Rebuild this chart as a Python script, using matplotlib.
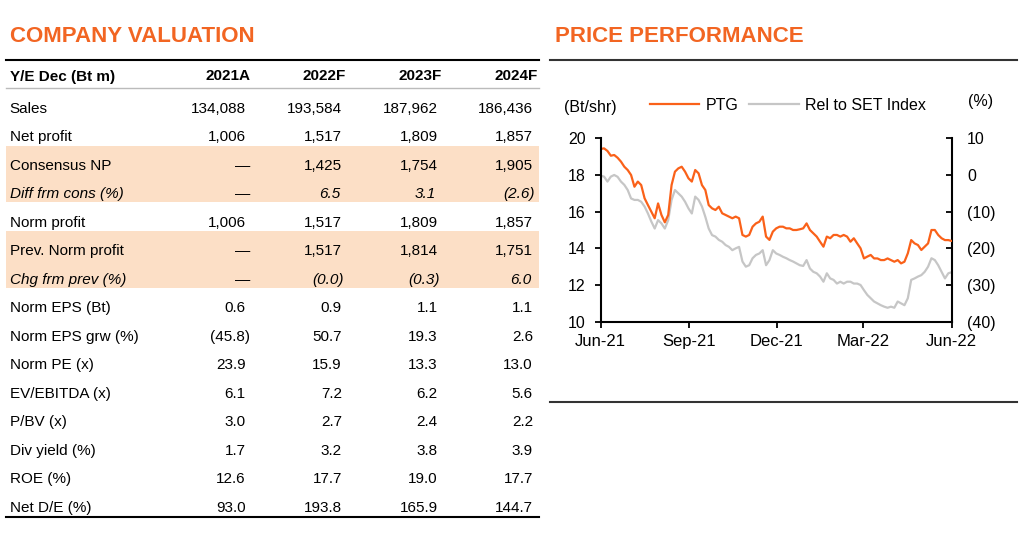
import matplotlib
matplotlib.use('Agg')
import matplotlib.pyplot as plt
import matplotlib.dates as mdates
from matplotlib.lines import Line2D
from matplotlib.patches import Rectangle
import numpy as np
import pandas as pd

plt.rcParams['font.family'] = ['Liberation Sans', 'DejaVu Sans']

# ---- table data ----
years = ['2021A', '2022F', '2023F', '2024F']
row_labels = ['Sales', 'Net profit', 'Consensus NP', 'Diff frm cons (%)', 'Norm profit',
              'Prev. Norm profit', 'Chg frm prev (%)', 'Norm EPS (Bt)', 'Norm EPS grw (%)',
              'Norm PE (x)', 'EV/EBITDA (x)', 'P/BV (x)', 'Div yield (%)', 'ROE (%)', 'Net D/E (%)']
sales = [134088, 193584, 187962, 186436]
net_profit = [1006, 1517, 1809, 1857]
consensus_np = [None, 1425, 1754, 1905]
diff_cons = [None, 6.5, 3.1, -2.6]
norm_profit = [1006, 1517, 1809, 1857]
prev_norm_profit = [None, 1517, 1814, 1751]
chg_prev = [None, -0.0, -0.3, 6.0]
norm_eps = [0.6, 0.9, 1.1, 1.1]
eps_growth = [-45.8, 50.7, 19.3, 2.6]
norm_pe = [23.9, 15.9, 13.3, 13.0]
ev_ebitda = [6.1, 7.2, 6.2, 5.6]
pbv = [3.0, 2.7, 2.4, 2.2]
div_yield = [1.7, 3.2, 3.8, 3.9]
roe = [12.6, 17.7, 19.0, 17.7]
net_de = [93.0, 193.8, 165.9, 144.7]

table_rows = [sales, net_profit, consensus_np, diff_cons, norm_profit, prev_norm_profit,
              chg_prev, norm_eps, eps_growth, norm_pe, ev_ebitda, pbv, div_yield, roe, net_de]
int_rows = {0, 1, 2, 4, 5}
italic_rows = {3, 6}
shaded = [(2, 3), (5, 6)]

# ---- price performance data (about twice a week, Jun-21 to Jun-22) ----
ptg_price = [19.42, 19.45, 19.31, 19.05, 19.09, 18.94, 18.73, 18.45, 18.27, 18.0, 17.36, 17.64,
             17.45, 16.73, 16.36, 16.0, 15.64, 16.45, 15.82, 15.42, 15.82, 17.45, 18.18, 18.36,
             18.45, 18.18, 17.82,
             17.64, 18.27, 18.09, 17.45, 17.18, 16.36, 16.18, 16.09, 16.27, 15.91, 15.82, 15.73,
             15.64, 15.73, 15.64, 14.73, 14.64, 14.73, 15.18, 15.36, 15.45, 15.73, 14.64, 14.46,
             14.91, 15.09,
             15.18, 15.18, 15.09, 15.09, 15.0, 15.0, 15.04, 15.09, 15.36, 15.0, 14.82, 14.64,
             14.36, 14.09, 14.64, 14.55, 14.73, 14.73, 14.64, 14.73, 14.64, 14.36, 14.55, 14.27,
             14.0, 13.45,
             13.55, 13.64, 13.45, 13.45, 13.36, 13.36, 13.45, 13.36, 13.27, 13.36, 13.18, 13.27,
             13.73, 14.45, 14.27, 14.18, 13.91, 14.09, 14.27, 15.0, 15.0, 14.73, 14.55, 14.45,
             14.45, 14.4]
rel_set = [-0.2, -0.45, -1.8, -0.45, 0, -0.5, -1.8, -2.7, -4.1, -6.4, -6.8, -6.8, -7.3, -8.6,
           -10.5, -12.7, -14.6, -12.3, -13.2, -14.6, -12.3, -6.8, -4.1, -5, -5.9, -7.3, -9.1,
           -10.5, -5.9, -6.8, -8.6, -11.4, -14.6, -16.4, -16.8, -17.7, -18.2, -19.1, -19.6,
           -20.5, -20, -19.6, -23.6, -25, -24.6, -22.7, -21.8, -21.4, -20.5, -24.6, -23.2,
           -20.5, -21.4,
           -21.8, -22.3, -22.7, -23.2, -23.6, -24.1, -24.6, -24.8, -23.2, -25.5, -26.4, -26.8,
           -27.7, -29.1, -26.8, -28.2, -28.6, -29.6, -29.1, -29.6, -29.1, -29.1, -29.6, -29.6,
           -30, -31.4,
           -32.7, -33.6, -34.5, -35, -35.5, -35.9, -36.2, -35.9, -36.2, -34.5, -35, -35.5,
           -33.6, -28.6, -28.2, -27.7, -27.3, -26.4, -25, -22.7, -23.2, -24.6, -26.4, -28.2,
           -26.8, -26.5]
dates = pd.date_range('2021-06-01', '2022-06-01', periods=len(ptg_price))

ORANGE_T = '#F26522'
ORANGE = '#FA6119'
GRAY = '#C6C6C6'
SHADE = '#FCDFC6'

W, H = 1024, 539
fig = plt.figure(figsize=(W / 100, H / 100), dpi=100)


def fx(x):
    return x / W


def fy(y):
    return 1 - y / H


def hline(x0, x1, y, lw, color):
    fig.add_artist(Line2D([fx(x0), fx(x1)], [fy(y), fy(y)], lw=lw, color=color,
                          transform=fig.transFigure))


def fmt(v, is_int):
    if v is None:
        return '\u2014'
    neg = v < 0 or (v == 0 and np.signbit(v))
    s = f'{abs(v):,.0f}' if is_int else f'{abs(v):.1f}'
    return f'({s})' if neg else s


# ---- left: company valuation table ----
fig.text(fx(10), fy(42.3), 'COMPANY VALUATION', color=ORANGE_T, fontsize=16,
         fontweight='bold', va='baseline')
hline(6, 539, 60, 1.5, 'black')
hline(6, 539, 88.3, 1.0, '#BBBBBB')
hline(6, 539, 517.3, 1.5, 'black')

fs = 11
row_y = [107.3 + 28.5 * i for i in range(len(row_labels))]
for a, b in shaded:
    top = row_y[a] - 18.5
    bot = row_y[b] + 9.5
    fig.add_artist(Rectangle((fx(6), fy(bot)), fx(539) - fx(6), fy(top) - fy(bot),
                             transform=fig.transFigure, facecolor=SHADE, edgecolor='none',
                             zorder=0))

head_x = [250.9, 346.0, 442.2, 538.0]
val_x = [245.7, 341.9, 437.7, 532.9]
fig.text(fx(9.6), fy(75 + 5.5), 'Y/E Dec (Bt m)', fontsize=fs, fontweight='bold', va='baseline')
for x, yr in zip(head_x, years):
    fig.text(fx(x), fy(75 + 5.5), yr, fontsize=fs, fontweight='bold', ha='right', va='baseline')

for i, (lab, vals) in enumerate(zip(row_labels, table_rows)):
    style = 'italic' if i in italic_rows else 'normal'
    yb = fy(row_y[i] + 5.5)
    fig.text(fx(9.6), yb, lab, fontsize=fs, style=style, va='baseline')
    for x, v in zip(val_x, vals):
        s = fmt(v, i in int_rows)
        if v is None:
            fig.text(fx(x + 4.5), yb, s, fontsize=fs, ha='right', va='baseline')
            continue
        off = 4 if s.endswith(')') else 0
        if i in italic_rows:
            off -= 2
        fig.text(fx(x + off), yb, s, fontsize=fs, style=style, ha='right', va='baseline')

# ---- right: price performance ----
fig.text(fx(555), fy(42.3), 'PRICE PERFORMANCE', color=ORANGE_T, fontsize=16,
         fontweight='bold', va='baseline')
hline(550, 1017, 59.5, 1.5, '#333333')
hline(550, 1017, 402.3, 1.5, '#333333')

ax = fig.add_axes([fx(600.7), fy(321.7), fx(951.7) - fx(600.7), fy(138.3) - fy(321.7)])
ax2 = ax.twinx()
l2, = ax2.plot(dates, rel_set, color=GRAY, lw=1.6, label='Rel to SET Index')
l1, = ax.plot(dates, ptg_price, color=ORANGE, lw=1.6, label='PTG')
ax.set_zorder(ax2.get_zorder() + 1)
ax.patch.set_visible(False)

ax.set_ylim(10, 20)
ax.set_yticks(np.arange(10, 21, 2))
ax2.set_ylim(-40, 10)
ax2.set_yticks(np.arange(-40, 11, 10))
ax2.yaxis.set_major_formatter(plt.FuncFormatter(
    lambda v, p: f'({abs(v):.0f})' if v < 0 else f'{v:.0f}'))
ax.set_xlim(pd.Timestamp('2021-06-01'), pd.Timestamp('2022-06-01'))
ax.set_xticks(pd.to_datetime(['2021-06-01', '2021-09-01', '2021-12-01', '2022-03-01',
                              '2022-06-01']))
ax.xaxis.set_major_formatter(mdates.DateFormatter('%b-%y'))

for a in (ax, ax2):
    a.spines['top'].set_visible(False)
    for sp in a.spines.values():
        sp.set_linewidth(1.5)
ax.spines['right'].set_visible(False)
ax2.spines['left'].set_visible(False)
ax2.spines['bottom'].set_visible(False)

ax.tick_params(axis='y', direction='out', length=4, width=1.3, labelsize=11.5, pad=7)
ax.tick_params(axis='x', direction='out', length=4, width=1.3, labelsize=12, pad=5)
ax2.tick_params(axis='y', direction='in', length=4, width=1.3, labelsize=11.5, pad=11)

fig.text(fx(564), fy(106.7 + 5.7), '(Bt/shr)', fontsize=11.5, va='baseline')
fig.text(fx(967.7), fy(100 + 5.7), '(%)', fontsize=11.5, va='baseline')
fig.legend(handles=[l1, l2], loc='center left', bbox_to_anchor=(fx(650), fy(105)), ncol=2,
           frameon=False, borderpad=0, borderaxespad=0, fontsize=11.5, handlelength=3.07,
           handletextpad=0.4, columnspacing=0.7)

fig.savefig('out.png', dpi=100)
